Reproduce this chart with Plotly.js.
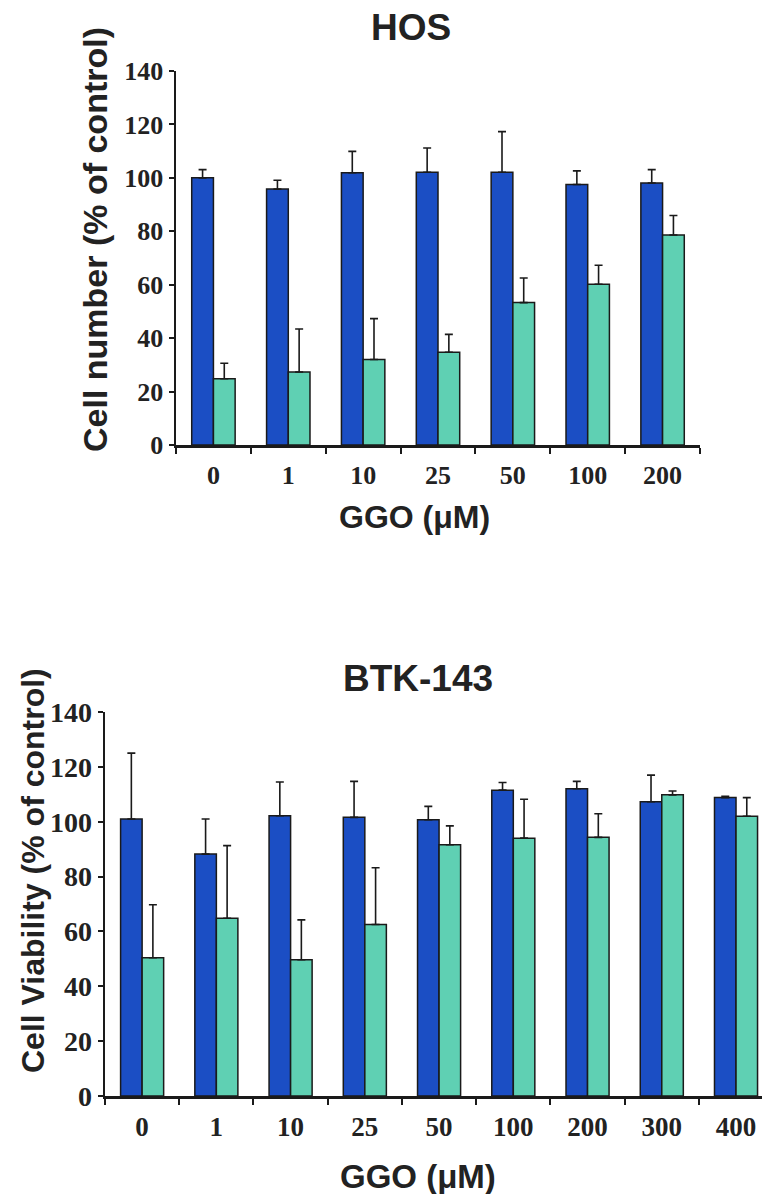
<!DOCTYPE html>
<html>
<head>
<meta charset="utf-8">
<script src="https://cdn.plot.ly/plotly-3.0.1.min.js"></script>
<style>html,body{margin:0;padding:0;background:#fff;}#chart{width:762px;height:1194px;}</style>
</head>
<body>
<div id="chart"></div>
<script>
// ---- Data: HOS (top panel) ----
const hosDoses = ["0", "1", "10", "25", "50", "100", "200"];
const hosBlue = [100, 95.8, 101.9, 102.1, 102.1, 97.5, 98.1];
const hosBlueErr = [3.1, 3.3, 8, 9.1, 15.2, 5.1, 5];
const hosGreen = [24.8, 27.3, 32, 34.7, 53.3, 60.2, 78.6];
const hosGreenErr = [5.8, 16.1, 15.3, 6.7, 9.2, 7.1, 7.3];

// ---- Data: BTK-143 (bottom panel) ----
const btkDoses = ["0", "1", "10", "25", "50", "100", "200", "300", "400"];
const btkBlue = [101, 88.2, 102.2, 101.6, 100.7, 111.5, 112, 107.3, 108.8];
const btkBlueErr = [24, 12.8, 12.3, 13.1, 4.9, 2.8, 2.7, 9.7, 0.5];
const btkGreen = [50.4, 64.8, 49.7, 62.5, 91.6, 94, 94.3, 109.8, 102];
const btkGreenErr = [19.3, 26.5, 14.5, 20.7, 6.9, 14.2, 8.6, 1.4, 6.8];

const yTicks = [0, 20, 40, 60, 80, 100, 120, 140];

// ---- Styling ----
const W = 762, H = 1194;
const BLUE = "#1b4ec4", GREEN = "#5fd0b3", INK = "#1a1a1a";
const serif = {family: "Liberation Serif, Times New Roman, serif", size: 23, color: "#222", weight: "bold"};
const sans = "Liberation Sans, Arial, sans-serif";
const px = x => x / W, py = y => 1 - y / H;

function zeros(n) { return new Array(n).fill(0); }
function barTrace(x, y, err, color, xa, ya) {
  return {
    type: "bar", x: x, y: y, xaxis: xa, yaxis: ya, showlegend: false,
    marker: {color: color, line: {color: INK, width: 1.5}},
    error_y: {type: "data", symmetric: false, array: err, arrayminus: zeros(err.length),
              color: INK, thickness: 1.6, width: 4},
    hoverinfo: "x+y"
  };
}

const traces = [
  barTrace(hosDoses, hosBlue, hosBlueErr, BLUE, "x", "y"),
  barTrace(hosDoses, hosGreen, hosGreenErr, GREEN, "x", "y"),
  barTrace(btkDoses, btkBlue, btkBlueErr, BLUE, "x2", "y2"),
  barTrace(btkDoses, btkGreen, btkGreenErr, GREEN, "x2", "y2")
];

function xAxis(domain, range, anchor, size, standoff) {
  return {
    domain: domain, anchor: anchor, type: "category", range: range,
    showline: true, linecolor: INK, linewidth: 2.5,
    ticks: "outside", tickson: "boundaries", ticklen: 6, tickwidth: 2, tickcolor: INK,
    ticklabelstandoff: standoff,
    tickfont: Object.assign({}, serif, {size: size}),
    showgrid: false, zeroline: false, fixedrange: true
  };
}
function yAxis(domain, anchor, size) {
  return {
    domain: domain, anchor: anchor, range: [0, 140], tickvals: yTicks,
    showline: true, linecolor: INK, linewidth: 2.5,
    ticks: "outside", ticklen: 5, tickwidth: 2, tickcolor: INK,
    tickfont: Object.assign({}, serif, {size: size}),
    showgrid: false, zeroline: false, fixedrange: true
  };
}

function label(text, x, y, size, angle) {
  return {
    text: text, xref: "paper", yref: "paper", x: px(x), y: py(y),
    xanchor: "center", yanchor: "middle", showarrow: false, textangle: angle || 0,
    font: {family: sans, size: size, color: "#222", weight: "bold"}
  };
}

const layout = {
  width: W, height: H,
  margin: {l: 0, r: 0, t: 0, b: 0},
  paper_bgcolor: "#fff", plot_bgcolor: "#fff",
  barmode: "group", bargap: 0.42, bargroupgap: 0,
  xaxis: xAxis([px(176), px(700)], [-0.5, 6.5], "y", 26, 5),
  yaxis: yAxis([py(445), py(71)], "x", 26),
  xaxis2: xAxis([px(105), 1], [-0.5, 8.35], "y2", 27, 5),
  yaxis2: yAxis([py(1096), py(712)], "x2", 28),
  annotations: [
    label("HOS", 411, 28, 37),
    label("Cell number (% of control)", 95, 240, 34, -90),
    label("GGO (μM)", 414, 517, 32),
    label("BTK-143", 418, 678, 37),
    label("Cell Viability (% of control)", 33, 871, 32, -90),
    label("GGO (μM)", 418, 1176, 33)
  ]
};

Plotly.newPlot("chart", traces, layout, {displayModeBar: false, staticPlot: true});
</script>
</body>
</html>
